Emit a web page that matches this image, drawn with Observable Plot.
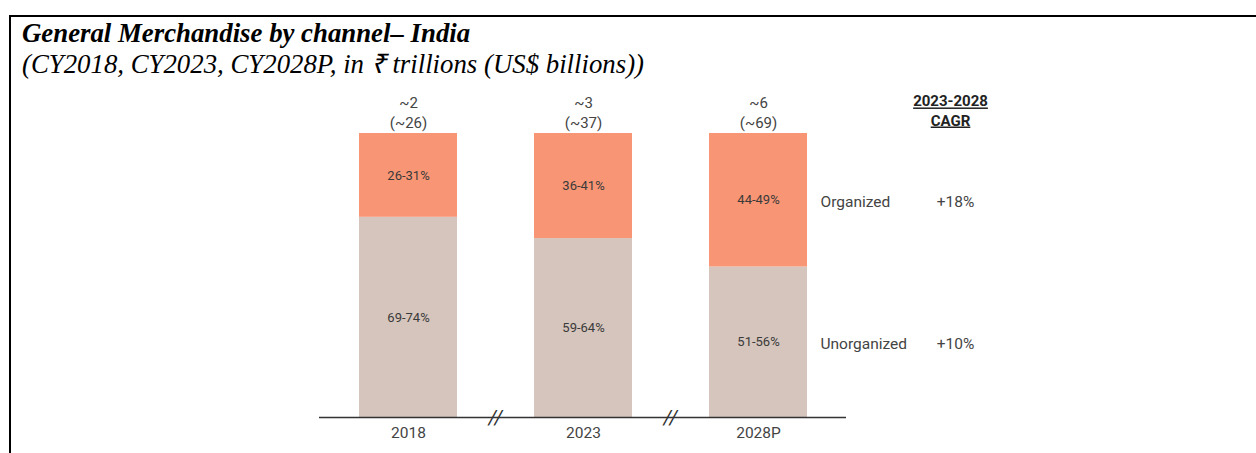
<!DOCTYPE html>
<html>
<head>
<meta charset="utf-8">
<script src="https://cdn.jsdelivr.net/npm/d3@7"></script>
<script src="https://cdn.jsdelivr.net/npm/@observablehq/plot@0.6"></script>
<style>
  html, body { margin: 0; padding: 0; background: #fff; width: 1256px; height: 453px; overflow: hidden; }
  #frame { position: absolute; left: 9px; top: 15px; width: 1300px; height: 500px; border-top: 2px solid #000; border-left: 2px solid #000; }
  #title { position: absolute; left: 22px; top: 18px; font: bold italic 26.8px "Liberation Serif", "Times New Roman", serif; line-height: 30px; color: #000; white-space: nowrap; }
  #subtitle { position: absolute; left: 22px; top: 49px; font: italic 26.8px "Liberation Serif", "Times New Roman", serif; line-height: 30px; color: #000; white-space: nowrap; }
  #chart { position: absolute; left: 0; top: 80px; }
</style>
</head>
<body>
<div id="frame"></div>
<div id="title">General Merchandise by channel– India</div>
<div id="subtitle">(CY2018, CY2023, CY2028P, in ₹ trillions (US$ billions))</div>
<div id="chart"></div>
<script>
const years = ["2018", "2023", "2028P"];
const channels = ["Unorganized", "Organized"];
const unorganizedShare = [70.5, 63, 53];
const organizedShare = [29.5, 37, 47];
const unorganizedLabels = ["69-74%", "59-64%", "51-56%"];
const organizedLabels = ["26-31%", "36-41%", "44-49%"];
const totalINR = ["~2", "~3", "~6"];
const totalUSD = ["(~26)", "(~37)", "(~69)"];
const cagr = ["+10%", "+18%"];
const cagrHeader = "2023-2028\nCAGR";

const rows = [];
years.forEach((y, i) => {
  rows.push({year: y, channel: channels[0], value: unorganizedShare[i], label: unorganizedLabels[i]});
  rows.push({year: y, channel: channels[1], value: organizedShare[i], label: organizedLabels[i]});
});
const totals = years.map((y, i) => ({year: y, text: totalINR[i] + "\n" + totalUSD[i]}));
const lastYear = years[years.length - 1];
const lastRows = rows.filter(d => d.year === lastYear).map(d => ({...d, cagr: cagr[channels.indexOf(d.channel)]}));

const font = "Roboto, sans-serif";

const chart = Plot.plot({
  width: 1256,
  height: 373,
  marginLeft: 319,
  marginRight: 410,
  marginTop: 53,
  marginBottom: 36,
  style: {fontFamily: font, background: "transparent", overflow: "visible"},
  x: {type: "band", domain: years, paddingInner: 0.4416, paddingOuter: 0.2223, axis: null},
  y: {domain: [0, 100], axis: null},
  color: {domain: channels, range: ["#D5C5BC", "#F89574"]},
  marks: [
    Plot.barY(rows, Plot.stackY({x: "year", y: "value", fill: "channel", z: "channel", order: channels})),
    Plot.text(rows, Plot.stackY({x: "year", y: "value", z: "channel", order: channels, text: "label", fill: "#3a3a3a", fontSize: 13, letterSpacing: -0.5})),
    Plot.text(totals, {x: "year", y: 100, text: "text", lineAnchor: "bottom", dy: -6, fontSize: 15, lineHeight: 1.27, fill: "#444"}),
    Plot.ruleY([0], {stroke: "#333", strokeWidth: 1.5}),
    Plot.text(years.slice(0, -1), {x: d => d, y: 0, text: () => "//", dx: 87, fontSize: 20, fill: "#333", letterSpacing: -3, fontStyle: "italic"}),
    Plot.text(years, {x: d => d, frameAnchor: "bottom", dy: 20, text: d => d, fontSize: 15.5, fill: "#444"}),
    Plot.text(lastRows, Plot.stackY({x: "year", y: "value", z: "channel", order: channels, text: "channel", textAnchor: "start", dx: 62, dy: 2, fontSize: 15.5, fill: "#444"})),
    Plot.text(lastRows, Plot.stackY({x: "year", y: "value", z: "channel", order: channels, text: "cagr", dx: 197, dy: 2, fontSize: 15.5, fill: "#444"})),
    Plot.text([cagrHeader], {x: () => lastYear, y: 100, text: d => d, lineAnchor: "bottom", dy: -8, dx: 192, fontSize: 15, fontWeight: "bold", lineHeight: 1.27, fill: "#222"})
  ]
});
d3.select(chart).selectAll("text").filter(function() { return this.textContent.includes("CAGR"); })
  .style("text-decoration", "underline");
document.getElementById("chart").appendChild(chart);
</script>
</body>
</html>
